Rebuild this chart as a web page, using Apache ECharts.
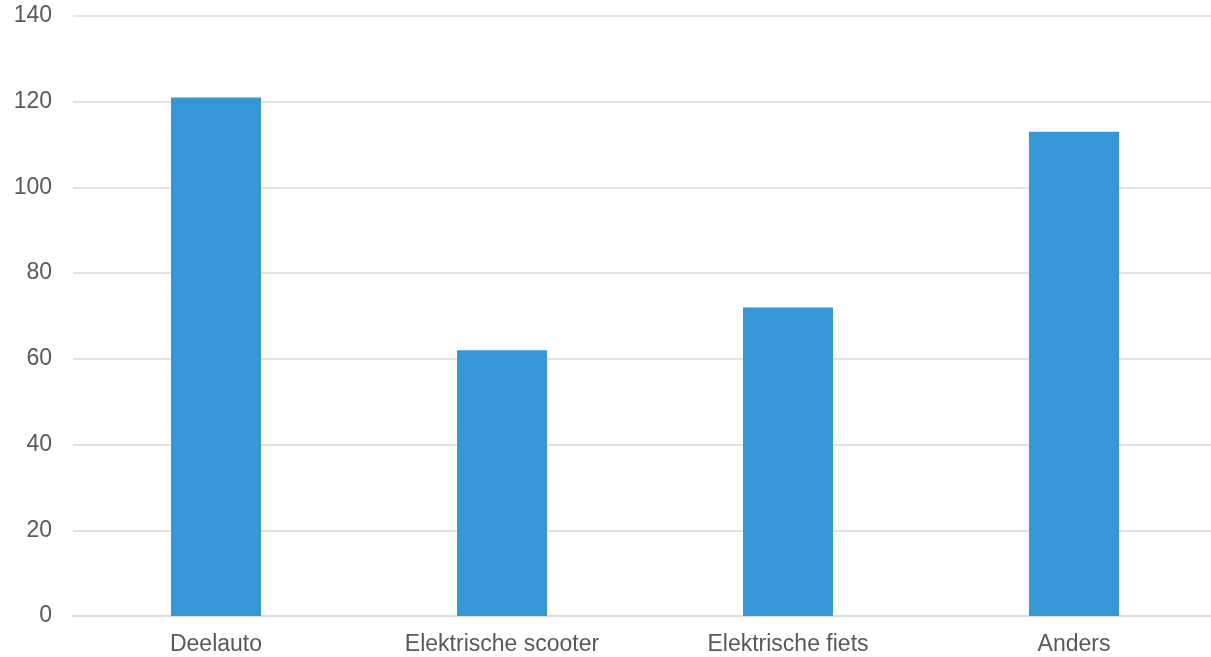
<!DOCTYPE html>
<html>
<head>
<meta charset="utf-8">
<script src="https://cdn.jsdelivr.net/npm/echarts@6/dist/echarts.min.js"></script>
<style>html,body{margin:0;padding:0;background:#fff;overflow:hidden;width:1211px;height:657px}#c{width:1217px;height:657px}</style>
</head>
<body>
<div id="c"></div>
<script>
const categories = ["Deelauto", "Elektrische scooter", "Elektrische fiets", "Anders"];
const values = [121, 62, 72, 113];
const yTicks = { min: 0, max: 140, interval: 20 };

const chart = echarts.init(document.getElementById('c'));
chart.setOption({
  animation: false,
  grid: { left: 73, right: 0, top: 16, bottom: 41, containLabel: false },
  xAxis: {
    type: 'category',
    data: categories,
    axisLine: { lineStyle: { color: '#d9d9d9', width: 1.5 } },
    axisTick: { show: false },
    axisLabel: { color: '#595959', fontFamily: 'Liberation Sans, Arial, sans-serif', fontSize: 23, margin: 17 }
  },
  yAxis: {
    type: 'value',
    min: yTicks.min, max: yTicks.max, interval: yTicks.interval,
    axisLine: { show: false },
    axisTick: { show: false },
    splitLine: { lineStyle: { color: '#d9d9d9', width: 1.5 } },
    axisLabel: { color: '#595959', fontFamily: 'Liberation Sans, Arial, sans-serif', fontSize: 23, margin: 21 }
  },
  series: [{
    type: 'bar',
    data: values,
    barWidth: 90,
    itemStyle: { color: '#3796d6' }
  }]
});
</script>
</body>
</html>
